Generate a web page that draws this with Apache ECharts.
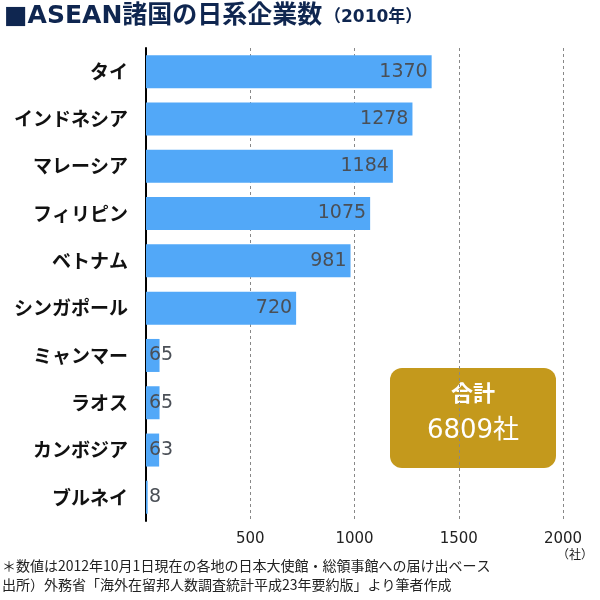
<!DOCTYPE html>
<html>
<head>
<meta charset="utf-8">
<script src="https://cdn.jsdelivr.net/npm/echarts@6/dist/echarts.min.js"></script>
<style>
  html, body { margin: 0; padding: 0; background: #fff; }
  #chart { width: 600px; height: 600px; }
</style>
</head>
<body>
<div id="chart"></div>
<script>
var countries = ['タイ', 'インドネシア', 'マレーシア', 'フィリピン', 'ベトナム', 'シンガポール', 'ミャンマー', 'ラオス', 'カンボジア', 'ブルネイ'];
var companies = [1370, 1278, 1184, 1075, 981, 720, 65, 65, 63, 8];
var totalText = '6809社';
var xTicks = [500, 1000, 1500, 2000];

var font = '"Noto Sans CJK JP", "Noto Sans", sans-serif';
var numFont = '"DejaVu Sans", "Noto Sans CJK JP", sans-serif';
var chart = echarts.init(document.getElementById('chart'));

// 値の小さいバーはラベルを左寄せ
var barData = companies.map(function(v) {
    return {
        value: v,
        label: { position: v < 100 ? 'insideLeft' : 'insideRight', distance: v < 100 ? 3 : 4 }
    };
});

chart.setOption({
    animation: false,
    textStyle: { fontFamily: font },
    grid: { left: 146, right: 37, top: 48, height: 473 },
    xAxis: {
        type: 'value',
        min: 0,
        max: 2000,
        interval: 500,
        axisLine: { show: false },
        axisTick: { show: false },
        axisLabel: {
            showMinLabel: false,
            color: '#222',
            fontSize: 15,
            fontFamily: numFont,
            margin: 11,
            formatter: function(v) { return xTicks.indexOf(v) >= 0 ? String(v) : ''; }
        },
        splitLine: { lineStyle: { color: '#888', type: [3, 3], width: 1 } }
    },
    yAxis: {
        type: 'category',
        data: countries,
        inverse: true,
        axisLine: { show: true, lineStyle: { color: '#000', width: 2 } },
        axisTick: { show: false },
        axisLabel: { color: '#111', fontSize: 19, fontWeight: 'bold', margin: 18 }
    },
    series: [{
        type: 'bar',
        data: barData,
        barWidth: 33,
        itemStyle: { color: '#52a8f8' },
        label: {
            show: true,
            color: '#4a4f56',
            fontSize: 19,
            fontFamily: numFont
        }
    }],
    graphic: [
        {
            type: 'text', left: 4, top: 4,
            style: { text: '■ASEAN諸国の日系企業数', font: 'bold 25px "DejaVu Sans", "Noto Sans CJK JP", sans-serif', fill: '#0f2650' }
        },
        {
            type: 'text', left: 324, top: 9,
            style: { text: '（2010年）', font: 'bold 17px ' + numFont, fill: '#0f2650' }
        },
        {
            type: 'rect', shape: { x: 390, y: 368, width: 166, height: 100, r: 12 },
            style: { fill: '#c4991c' }
        },
        {
            type: 'text', x: 473, y: 393,
            style: { text: '合計', font: 'bold 22px ' + font, fill: '#fff', align: 'center', verticalAlign: 'middle' }
        },
        {
            type: 'text', x: 473, y: 431,
            style: { text: totalText, font: '26px ' + numFont, fill: '#fff', align: 'center', verticalAlign: 'middle' }
        },
        {
            type: 'text', x: 575, y: 554,
            style: { text: '（社）', font: '12px ' + font, fill: '#222', align: 'center', verticalAlign: 'middle' }
        },
        {
            type: 'text', left: 2, top: 559,
            style: { text: '＊数値は2012年10月1日現在の各地の日本大使館・総領事館への届け出ベース', font: '14px ' + font, fill: '#222' }
        },
        {
            type: 'text', left: 2, top: 578,
            style: { text: '出所）外務省「海外在留邦人数調査統計平成23年要約版」より筆者作成', font: '14px ' + font, fill: '#222' }
        }
    ]
});
</script>
</body>
</html>
